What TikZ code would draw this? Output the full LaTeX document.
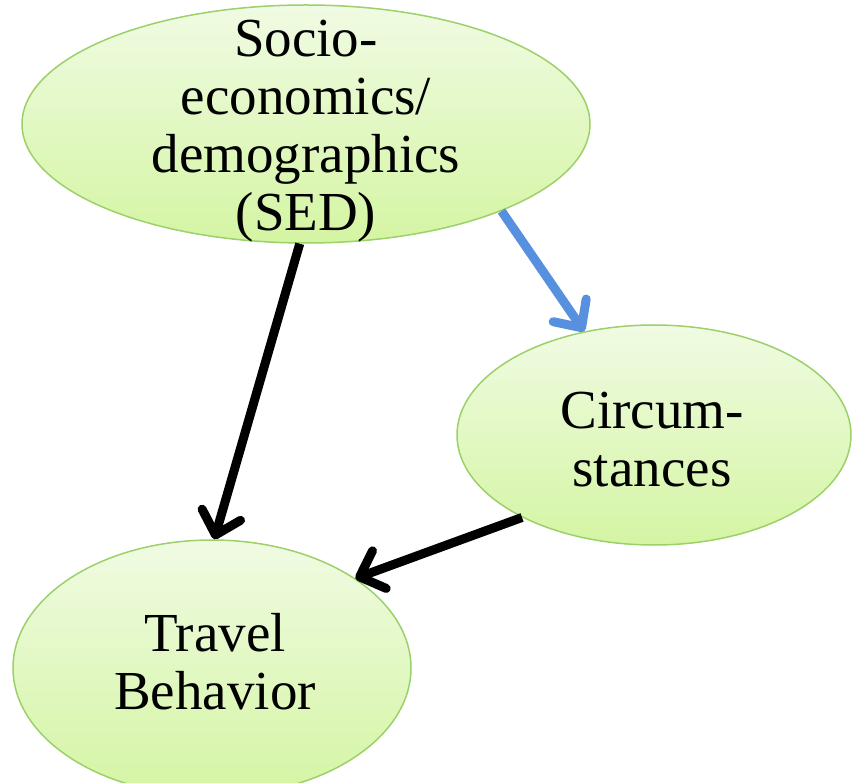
\documentclass[tikz,border=0pt]{standalone}
\usepackage{fontspec}
\setmainfont{Liberation Serif}
\usetikzlibrary{shapes.geometric,arrows.meta}

\definecolor{bubtop}{HTML}{F0FBE3}
\definecolor{bubbot}{HTML}{D4F5A3}
\definecolor{bubline}{HTML}{9CD16A}
\definecolor{linkblue}{HTML}{5890E0}

\tikzset{every picture/.style={line width=0.75pt}}
\tikzset{
  bub/.style={ellipse, draw=bubline, line width=1.5pt, top color=bubtop, bottom color=bubbot, inner sep=0pt},
  bubtext/.style={align=center, font=\fontsize{55}{58}\selectfont},
  link/.style={line width=9pt, -{Straight Barb[round,length=21pt,width=40pt]}}
}

\begin{document}
\begin{tikzpicture}[x=1pt,y=1pt,yscale=-1,xscale=1]
\useasboundingbox (0,0) rectangle (852,783);
\clip (0,0) rectangle (852,783);

% bubbles
\node [bub, minimum width=568, minimum height=238] (sed) at (306,124) {};
\node [bub, minimum width=394, minimum height=220] (circ) at (654,435) {};
\node [bub, minimum width=398, minimum height=256] (trav) at (212,668) {};

% links
\draw [link] (sed.-93) -- (trav.89);
\draw [link, draw=linkblue] (sed.-24) -- (circ.124);
\draw [link] (circ.212) -- (trav.32);

% labels
\node [bubtext] (sedtext) at (306,131) {Socio-\\economics/\\demographics\\(SED)};
\node [bubtext] (circtext) at (652,440) {Circum-\\stances};
\node [bubtext] (travtext) at (215,662) {Travel\\Behavior};

\end{tikzpicture}
\end{document}
